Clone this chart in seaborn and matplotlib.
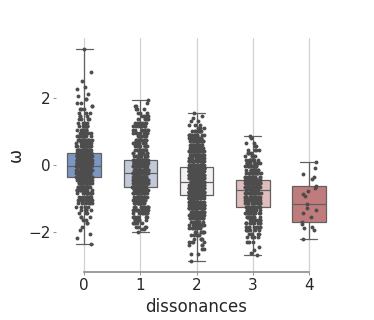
import numpy as np
import pandas as pd
import matplotlib
matplotlib.use("Agg")
import matplotlib.pyplot as plt
import seaborn as sns

# ---- data: observed ω values per dissonance category (value, count) ----
cat0_vals = [3.46, 2.76, 2.50, 2.32, 2.25, 2.12, 2.05, 1.95, 1.85, 1.75, 1.65, 1.55, 1.45, 1.35,
             1.25, 1.15, 1.05, 0.95, 0.85, 0.75, 0.65, 0.55, 0.45,
             0.35, 0.25, 0.15, 0.05, -0.05, -0.15, -0.25, -0.35,
             -0.45, -0.55, -0.65, -0.75, -0.85, -0.95, -1.05, -1.15, -1.25, -1.35, -1.45,
             -1.55, -1.65, -1.75, -1.85, -1.95, -2.05, -2.19, -2.35]
cat0_cnts = [1, 1, 1, 1, 1, 1, 1, 2, 2, 2, 3, 3, 3, 4,
             4, 6, 8, 9, 10, 12, 14, 17, 20,
             36, 36, 36, 36, 36, 36, 36, 36,
             22, 20, 17, 14, 10, 9, 8, 6, 4, 4, 3,
             3, 2, 2, 1, 1, 1, 1, 1]

cat1_vals = [1.94, 1.85, 1.75, 1.65, 1.55, 1.45, 1.35, 1.25, 1.15, 1.05, 0.95, 0.85, 0.75, 0.65,
             0.55, 0.45, 0.35, 0.25,
             0.15, 0.05, -0.05, -0.15, -0.25, -0.35, -0.45, -0.55, -0.65,
             -0.75, -0.85, -0.95, -1.05, -1.15, -1.25, -1.35, -1.45, -1.55, -1.65, -1.75,
             -1.85, -1.92, -1.99]
cat1_cnts = [1, 1, 2, 3, 3, 4, 5, 6, 7, 8, 9, 10, 10, 10,
             10, 10, 10, 12,
             30, 30, 30, 30, 30, 30, 30, 30, 30,
             14, 14, 13, 12, 11, 11, 10, 9, 8, 6, 5,
             4, 2, 1]

cat2_vals = [1.53, 1.45, 1.39, 1.30, 1.20, 1.10, 1.00, 0.90, 0.80, 0.70, 0.60, 0.50, 0.40, 0.30,
             0.20, 0.10, 0.00,
             -0.10, -0.20, -0.30, -0.40, -0.50, -0.60, -0.70, -0.80, -0.90,
             -1.00, -1.10, -1.20, -1.30, -1.40, -1.50, -1.60, -1.70, -1.80, -1.90, -2.00,
             -2.10, -2.20, -2.30, -2.40, -2.50, -2.65, -2.88]
cat2_cnts = [1, 1, 1, 2, 3, 5, 8, 11, 14, 16, 18, 19, 21, 22,
             24, 26, 14,
             46, 46, 46, 46, 46, 46, 46, 46, 46,
             26, 25, 23, 21, 19, 17, 15, 12, 10, 8, 7,
             5, 4, 4, 3, 2, 2, 1]

cat3_vals = [0.86, 0.80, 0.64, 0.55, 0.45, 0.35, 0.25, 0.15, 0.05, -0.05, -0.15, -0.25, -0.35,
             -0.45, -0.55, -0.65,
             -0.75, -0.85, -0.95, -1.05, -1.15, -1.25,
             -1.35, -1.45, -1.55, -1.65, -1.75, -1.85, -1.95, -2.05, -2.15, -2.30, -2.45,
             -2.54, -2.62, -2.70]
cat3_cnts = [1, 1, 2, 2, 4, 4, 7, 8, 10, 11, 11, 12, 14,
             29, 29, 29,
             18, 15, 15, 14, 14, 14,
             13, 12, 11, 10, 9, 8, 7, 5, 4, 3, 1,
             1, 1, 1]

cat4_vals = [0.09, -0.11, -0.27, -0.36, -0.41, -0.64, -0.70, -0.78, -0.86, -0.94, -1.18,
             -1.30, -1.36, -1.45, -1.55, -1.71, -1.78, -1.85, -1.89, -1.93, -2.21]
cat4_cnts = [1] * len(cat4_vals)

categories = [0, 1, 2, 3, 4]
values = [cat0_vals, cat1_vals, cat2_vals, cat3_vals, cat4_vals]
counts = [cat0_cnts, cat1_cnts, cat2_cnts, cat3_cnts, cat4_cnts]
box_colors = ["#7b96c1", "#c2c9d9", "#f4f1f0", "#dfbdbd", "#c07c7c"]

rows = []
for c, v, n in zip(categories, values, counts):
    for val in np.repeat(v, n):
        rows.append((c, val))
df = pd.DataFrame(rows, columns=["dissonances", "omega"])

sns.set_theme(style="ticks")
plt.rcParams["font.family"] = ["DejaVu Sans"]

fig = plt.figure(figsize=(3.74, 3.2), dpi=100)
ax = fig.add_axes([0.15, 0.15, 0.751, 0.731])

sns.boxplot(data=df, x="dissonances", y="omega", hue="dissonances", palette=box_colors,
            saturation=1, whis=[0, 100], width=0.6, legend=False, linewidth=0.9,
            linecolor="0.38", ax=ax, zorder=2)
sns.stripplot(data=df, x="dissonances", y="omega", size=2.8, color=".3", jitter=0.14,
              ax=ax, zorder=3)

ax.xaxis.grid(True, color="0.82", linewidth=0.9)
ax.set_axisbelow(True)
ax.set_xlabel("dissonances", fontsize=12)
ax.set_ylabel("ω", fontsize=12)
ax.yaxis.set_label_coords(-0.112, 0.5)
ax.set_yticks([-2, 0, 2])
ax.tick_params(axis="both", labelsize=11, length=2, width=0.6, color="0.5", pad=2)
sns.despine(ax=ax, trim=True, left=True)
ax.spines["bottom"].set_color("0.55")
ax.spines["bottom"].set_linewidth(1.2)

fig.savefig("out.png", dpi=100)
